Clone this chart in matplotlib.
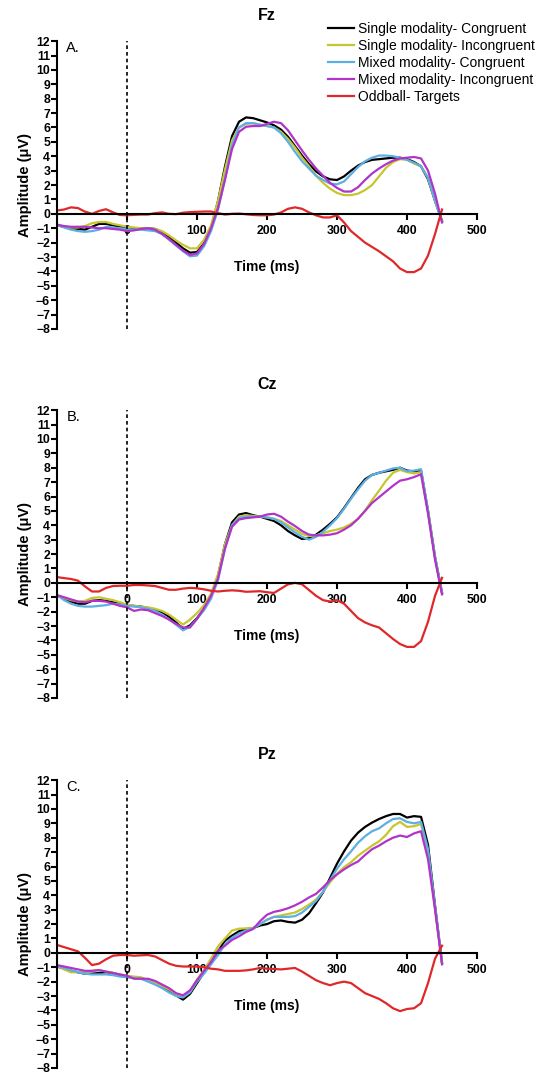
import numpy as np
import matplotlib
matplotlib.use('Agg')
import matplotlib.pyplot as plt

plt.rcParams['font.family'] = ['Liberation Sans', 'DejaVu Sans']

# time axis (ms), one value every 10 ms
t = np.arange(-100, 451, 10)

labels = ['Single modality- Congruent', 'Single modality- Incongruent',
          'Mixed modality- Congruent', 'Mixed modality- Incongruent',
          'Oddball- Targets']
colors = ['#000000', '#c6c62e', '#5eaee6', '#b034c8', '#e0282a']

# Fz
fz_single_con = [-0.8, -0.9, -1.0, -1.05, -1.1, -0.9, -0.7, -0.7, -0.8, -0.9,
                 -0.95, -1.0, -1.0, -1.0, -1.05, -1.25, -1.6, -2.0, -2.4, -2.7,
                 -2.65, -2.05, -1.0, 0.9, 3.3, 5.4, 6.4, 6.7, 6.65, 6.5,
                 6.35, 6.15, 5.85, 5.35, 4.7, 4.05, 3.45, 2.95, 2.6, 2.4,
                 2.35, 2.6, 3.0, 3.35, 3.6, 3.75, 3.8, 3.85, 3.9, 3.9,
                 3.8, 3.6, 3.3, 2.4, 0.9, -0.5]
fz_single_inc = [-0.8, -0.9, -0.95, -0.95, -0.85, -0.65, -0.57, -0.57, -0.7, -0.8,
                 -0.9, -0.95, -1.0, -1.0, -1.05, -1.2, -1.5, -1.85, -2.15, -2.4,
                 -2.4, -1.8, -0.8, 0.9, 3.1, 5.1, 6.0, 6.25, 6.3, 6.15,
                 6.1, 6.0, 5.7, 5.2, 4.6, 3.9, 3.3, 2.65, 2.15, 1.75,
                 1.45, 1.3, 1.3, 1.4, 1.65, 2.0, 2.6, 3.2, 3.6, 3.8,
                 3.75, 3.5, 3.3, 2.5, 0.9, -0.5]
fz_mixed_con = [-0.75, -0.95, -1.1, -1.2, -1.25, -1.2, -1.1, -0.9, -0.95, -1.0,
                -1.05, -1.1, -1.1, -1.15, -1.2, -1.4, -1.8, -2.2, -2.6, -2.95,
                -2.9, -2.25, -1.2, 0.3, 2.4, 4.8, 6.0, 6.3, 6.3, 6.2,
                6.1, 6.0, 5.6, 5.0, 4.3, 3.65, 3.15, 2.65, 2.35, 2.1,
                2.05, 2.25, 2.75, 3.25, 3.65, 3.9, 4.05, 4.05, 4.0, 3.9,
                3.75, 3.55, 3.3, 2.5, 0.9, -0.5]
fz_mixed_inc = [-0.75, -0.85, -0.9, -0.9, -0.9, -0.95, -1.0, -1.0, -1.05, -1.1,
                -1.2, -1.15, -1.05, -1.0, -1.1, -1.4, -1.75, -2.15, -2.55, -2.85,
                -2.75, -2.1, -1.0, 0.4, 2.4, 4.5, 5.7, 6.05, 6.1, 6.1,
                6.25, 6.4, 6.3, 5.8, 5.1, 4.4, 3.75, 3.15, 2.65, 2.15,
                1.8, 1.55, 1.55, 1.85, 2.35, 2.8, 3.15, 3.45, 3.7, 3.85,
                3.9, 3.95, 3.85, 3.0, 1.4, -0.6]
fz_oddball = [0.23, 0.3, 0.45, 0.4, 0.15, 0.0, 0.2, 0.32, 0.1, -0.08,
              -0.1, -0.07, -0.05, -0.05, 0.05, 0.1, 0.0, -0.02, 0.08, 0.12,
              0.14, 0.16, 0.16, 0.05, -0.05, 0.0, 0.02, -0.03, -0.08, -0.1,
              -0.1, -0.05, 0.1, 0.35, 0.45, 0.35, 0.1, -0.1, -0.25, -0.25,
              -0.1, -0.6, -1.2, -1.6, -2.0, -2.3, -2.6, -2.95, -3.3, -3.8,
              -4.05, -4.05, -3.8, -2.9, -1.4, 0.3]

# Cz
cz_single_con = [-0.87, -1.1, -1.3, -1.45, -1.45, -1.25, -1.2, -1.25, -1.35, -1.45,
                 -1.55, -1.6, -1.65, -1.75, -1.85, -2.05, -2.35, -2.75, -3.2, -2.95,
                 -2.45, -1.8, -0.9, 0.5, 2.7, 4.2, 4.75, 4.85, 4.7, 4.6,
                 4.45, 4.3, 4.0, 3.6, 3.3, 3.05, 3.1, 3.35, 3.7, 4.1,
                 4.55, 5.2, 5.9, 6.6, 7.2, 7.5, 7.65, 7.75, 7.85, 8.0,
                 7.8, 7.75, 7.8, 5.0, 1.8, -0.7]
cz_single_inc = [-0.87, -1.05, -1.2, -1.3, -1.25, -1.05, -1.0, -1.1, -1.2, -1.35,
                 -1.5, -1.6, -1.65, -1.7, -1.8, -1.95, -2.2, -2.55, -2.9, -2.55,
                 -2.1, -1.55, -0.75, 0.6, 2.7, 4.0, 4.6, 4.7, 4.65, 4.6,
                 4.55, 4.45, 4.3, 4.0, 3.7, 3.4, 3.25, 3.3, 3.45, 3.6,
                 3.7, 3.85, 4.1, 4.45, 5.0, 5.75, 6.4, 7.1, 7.65, 7.85,
                 7.7, 7.6, 7.7, 5.0, 1.8, -0.7]
cz_mixed_con = [-0.85, -1.2, -1.45, -1.6, -1.65, -1.65, -1.6, -1.55, -1.45, -1.5,
                -1.6, -1.65, -1.7, -1.8, -1.95, -2.2, -2.55, -2.9, -3.3, -3.05,
                -2.5, -1.9, -1.1, 0.2, 2.4, 4.0, 4.5, 4.6, 4.6, 4.6,
                4.55, 4.45, 4.2, 3.85, 3.5, 3.2, 3.0, 3.2, 3.55, 4.0,
                4.5, 5.15, 5.85, 6.5, 7.1, 7.5, 7.65, 7.8, 7.95, 8.0,
                7.75, 7.8, 7.9, 5.0, 1.8, -0.7]
cz_mixed_inc = [-0.85, -1.0, -1.15, -1.3, -1.35, -1.25, -1.25, -1.3, -1.45, -1.6,
                -1.7, -1.95, -1.85, -1.9, -2.1, -2.3, -2.55, -2.85, -3.1, -3.1,
                -2.5, -1.75, -0.9, 0.3, 2.4, 3.9, 4.4, 4.5, 4.55, 4.6,
                4.75, 4.8, 4.6, 4.25, 3.95, 3.6, 3.35, 3.3, 3.3, 3.35,
                3.45, 3.7, 4.0, 4.45, 5.0, 5.55, 5.95, 6.35, 6.75, 7.1,
                7.2, 7.35, 7.55, 4.8, 1.6, -0.8]
cz_oddball = [0.4, 0.33, 0.27, 0.15, -0.25, -0.6, -0.6, -0.35, -0.22, -0.2,
              -0.2, -0.15, -0.15, -0.18, -0.22, -0.35, -0.48, -0.48, -0.4, -0.35,
              -0.38, -0.45, -0.55, -0.6, -0.55, -0.52, -0.55, -0.62, -0.6, -0.58,
              -0.65, -0.7, -0.4, -0.1, 0.0, -0.1, -0.5, -0.9, -1.2, -1.3,
              -1.2, -1.45, -1.95, -2.45, -2.75, -2.95, -3.1, -3.5, -3.9, -4.25,
              -4.45, -4.45, -4.05, -2.7, -0.9, 0.35]

# Pz
pz_single_con = [-0.95, -1.1, -1.25, -1.35, -1.45, -1.45, -1.4, -1.35, -1.4, -1.55,
                 -1.65, -1.7, -1.75, -1.95, -2.15, -2.4, -2.6, -2.95, -3.25, -2.85,
                 -2.1, -1.35, -0.65, 0.1, 0.85, 1.2, 1.5, 1.65, 1.72, 1.9,
                 2.0, 2.2, 2.25, 2.15, 2.1, 2.3, 2.75, 3.45, 4.2, 5.2,
                 6.2, 7.05, 7.8, 8.35, 8.75, 9.05, 9.3, 9.5, 9.65, 9.65,
                 9.4, 9.5, 9.45, 7.5, 3.3, -0.7]
pz_single_inc = [-0.9, -1.15, -1.35, -1.35, -1.3, -1.25, -1.2, -1.3, -1.4, -1.5,
                 -1.6, -1.65, -1.7, -1.9, -2.1, -2.3, -2.55, -2.85, -3.05, -2.7,
                 -1.85, -1.2, -0.4, 0.45, 1.0, 1.55, 1.68, 1.7, 1.72, 2.0,
                 2.3, 2.5, 2.6, 2.7, 2.8, 3.05, 3.35, 3.7, 4.25, 4.9,
                 5.5, 5.95, 6.3, 6.75, 7.1, 7.45, 7.75, 8.2, 8.8, 9.1,
                 8.75, 8.8, 8.95, 7.0, 3.1, -0.7]
pz_mixed_con = [-0.9, -1.05, -1.2, -1.35, -1.45, -1.5, -1.5, -1.5, -1.55, -1.65,
                -1.7, -1.75, -1.8, -2.0, -2.2, -2.45, -2.75, -3.0, -3.1, -2.75,
                -2.0, -1.45, -0.8, -0.15, 0.6, 1.05, 1.35, 1.55, 1.7, 2.0,
                2.3, 2.5, 2.5, 2.5, 2.55, 2.8, 3.2, 3.6, 4.25, 5.05,
                5.85, 6.5, 7.05, 7.65, 8.1, 8.45, 8.65, 9.0, 9.3, 9.35,
                9.1, 9.0, 9.1, 7.2, 3.2, -0.7]
pz_mixed_inc = [-0.85, -0.95, -1.05, -1.15, -1.25, -1.25, -1.2, -1.3, -1.4, -1.5,
                -1.6, -1.8, -1.8, -1.8, -1.95, -2.2, -2.45, -2.8, -2.95, -2.6,
                -1.9, -1.25, -0.65, 0.15, 0.5, 0.9, 1.15, 1.45, 1.65, 2.2,
                2.65, 2.85, 2.95, 3.1, 3.3, 3.55, 3.85, 4.1, 4.55, 5.05,
                5.45, 5.8, 6.1, 6.35, 6.8, 7.2, 7.45, 7.75, 8.0, 8.15,
                8.05, 8.3, 8.45, 6.5, 3.0, -0.8]
pz_oddball = [0.55, 0.4, 0.25, 0.1, -0.35, -0.85, -0.75, -0.45, -0.2, -0.15,
              -0.15, -0.2, -0.17, -0.15, -0.25, -0.5, -0.75, -0.9, -0.95, -0.95,
              -0.95, -1.0, -1.1, -1.15, -1.25, -1.25, -1.25, -1.22, -1.15, -1.05,
              -1.1, -1.12, -1.15, -1.1, -1.05, -1.3, -1.6, -1.9, -2.1, -2.25,
              -2.1, -2.0, -2.1, -2.45, -2.8, -3.0, -3.2, -3.5, -3.85, -4.05,
              -3.9, -3.85, -3.5, -2.1, -0.4, 0.5]

panels = [
    ('Fz', 'A.', [fz_single_con, fz_single_inc, fz_mixed_con, fz_mixed_inc, fz_oddball]),
    ('Cz', 'B.', [cz_single_con, cz_single_inc, cz_mixed_con, cz_mixed_inc, cz_oddball]),
    ('Pz', 'C.', [pz_single_con, pz_single_inc, pz_mixed_con, pz_mixed_inc, pz_oddball]),
]
bottoms = [0.6937, 0.3501, 0.0056]

fig = plt.figure(figsize=(5.4, 10.74), dpi=100)
handles = []
for (name, letter, series), b in zip(panels, bottoms):
    ax = fig.add_axes([0.1056, b, 0.7778, 0.268])
    for vals, c, lab in zip(series, colors, labels):
        h, = ax.plot(t, vals, color=c, lw=1.6, label=lab)
        if name == 'Fz':
            handles.append(h)
    ax.axvline(0, color='black', lw=1.2, ls=(0, (2.2, 1.8)))
    ax.set_xlim(-100, 500)
    ax.set_ylim(-8, 12)
    ax.spines['top'].set_visible(False)
    ax.spines['right'].set_visible(False)
    ax.spines['bottom'].set_position(('data', 0))
    for s in ['left', 'bottom']:
        ax.spines[s].set_linewidth(1.5)
    ax.set_xticks(np.arange(0, 501, 100))
    ax.set_yticks(np.arange(-8, 13, 1))
    ax.tick_params(axis='both', length=4, width=1.5, labelsize=8.8)
    ax.tick_params(axis='y', pad=1)
    ax.tick_params(axis='x', pad=4)
    for lbl in ax.get_xticklabels() + ax.get_yticklabels():
        lbl.set_fontweight('bold')
    ax.set_ylabel('Amplitude (\u03bcV)', fontweight='bold', fontsize=10.5, labelpad=3)
    ax.text(200, -3.7, 'Time (ms)', ha='center', va='center',
            fontweight='bold', fontsize=10)
    ax.text(0.022, 1.0, letter, transform=ax.transAxes, ha='left', va='top', fontsize=10.5)
    ax.set_title(name, fontweight='bold', fontsize=11.5, pad=15)

fig.legend(handles=handles, labels=labels, loc='upper right',
           bbox_to_anchor=(0.99, 0.9795), frameon=False, fontsize=10,
           handlelength=1.9, handletextpad=0.25, labelspacing=0.22,
           borderaxespad=0, borderpad=0)

fig.savefig('out.png', dpi=100)
